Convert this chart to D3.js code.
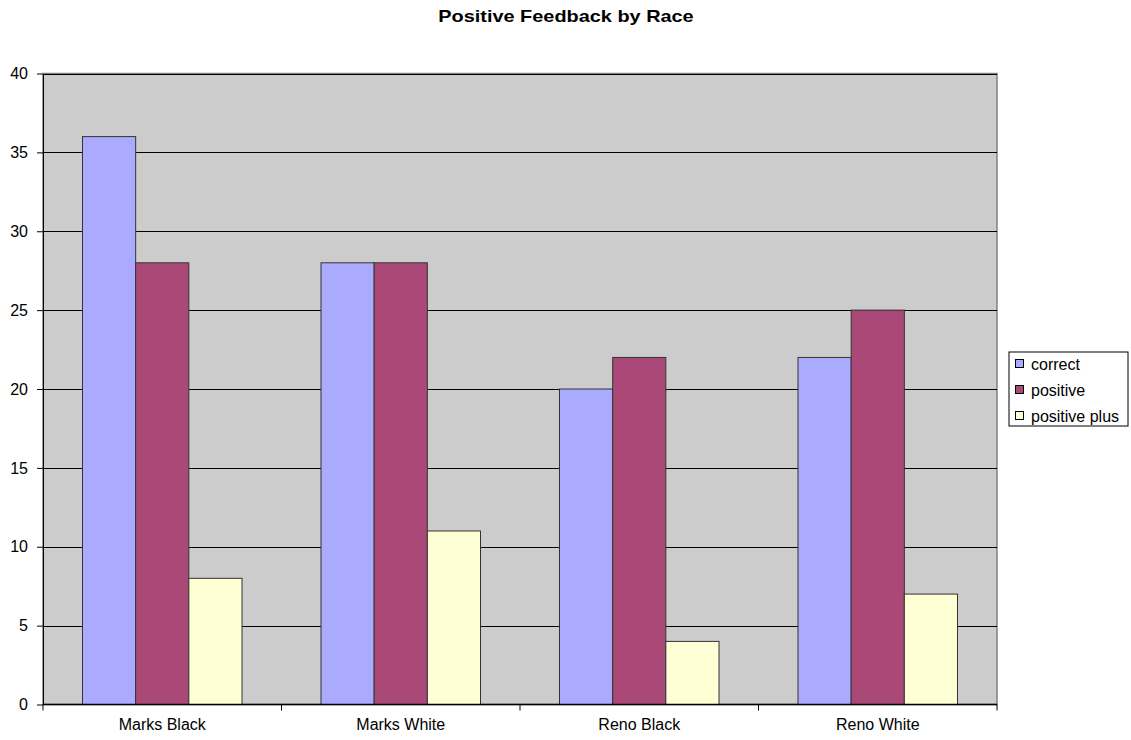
<!DOCTYPE html>
<html>
<head>
<meta charset="utf-8">
<script src="https://cdn.jsdelivr.net/npm/d3@7"></script>
<style>
  html, body { margin: 0; padding: 0; background: #fff; }
  text { font-family: "Liberation Sans", Arial, sans-serif; }
</style>
</head>
<body>
<svg id="chart" width="1131" height="740"></svg>
<script>
// Feedback counts by group
const categories = ["Marks Black", "Marks White", "Reno Black", "Reno White"];
const seriesNames = ["correct", "positive", "positive plus"];
const correct = [36, 28, 20, 22];
const positive = [28, 28, 22, 25];
const positivePlus = [8, 11, 4, 7];
const yTicks = [0, 5, 10, 15, 20, 25, 30, 35, 40];
const colors = ["#aaaaff", "#aa4977", "#ffffd5"];

const seriesValues = [correct, positive, positivePlus];
const rows = categories.map((c, i) => ({
  category: c,
  values: seriesNames.map((s, j) => ({ series: s, value: seriesValues[j][i] }))
}));

const svg = d3.select("#chart");
const plot = { left: 43, right: 997, top: 73.5, bottom: 704.5 };

const x0 = d3.scaleBand().domain(categories).range([plot.left, plot.right]).paddingInner(0).paddingOuter(0);
const x1 = d3.scaleBand().domain(seriesNames).range([39.5, x0.bandwidth() - 39.5]);
const y = d3.scaleLinear().domain([0, 40]).range([plot.bottom, plot.top]);

// Plot background
svg.append("rect")
  .attr("x", plot.left).attr("y", plot.top)
  .attr("width", plot.right - plot.left).attr("height", plot.bottom - plot.top)
  .attr("fill", "#cccccc").attr("stroke", "#808080").attr("stroke-width", 1.5);

// Horizontal gridlines
svg.append("g").selectAll("line").data(yTicks.filter(d => d > 0)).join("line")
  .attr("x1", plot.left).attr("x2", plot.right)
  .attr("y1", d => Math.round(y(d)) + 0.5).attr("y2", d => Math.round(y(d)) + 0.5)
  .attr("stroke", "#000").attr("stroke-width", 1);

// Bars
const groups = svg.append("g").selectAll("g").data(rows).join("g")
  .attr("transform", d => `translate(${x0(d.category)},0)`);
groups.selectAll("rect").data(d => d.values).join("rect")
  .attr("x", d => x1(d.series))
  .attr("y", d => y(d.value))
  .attr("width", x1.bandwidth())
  .attr("height", d => y(0) - y(d.value))
  .attr("fill", (d, i) => colors[i])
  .attr("stroke", "#333")
  .attr("stroke-width", 1);

// Y axis
const yAxis = d3.axisLeft(y).tickValues(yTicks).tickSize(6).tickPadding(9).tickSizeOuter(0);
const gy = svg.append("g").attr("transform", `translate(${plot.left},0)`).call(yAxis);
gy.select(".domain").attr("stroke", "#000");
gy.selectAll("line").attr("stroke", "#000");
gy.selectAll("text").attr("font-size", 16).attr("fill", "#000").attr("font-family", "Liberation Sans, Arial, sans-serif");

// X axis with ticks at category boundaries
const gx = svg.append("g").attr("transform", `translate(0,${plot.bottom})`);
gx.append("line").attr("x1", plot.left).attr("x2", plot.right).attr("stroke", "#000").attr("stroke-width", 1.5);
const boundaries = categories.map(c => x0(c)).concat([plot.right]);
gx.selectAll(".tk").data(boundaries).join("line").attr("class", "tk")
  .attr("x1", d => d).attr("x2", d => d).attr("y1", 0).attr("y2", 6).attr("stroke", "#000");
gx.selectAll("text").data(categories).join("text")
  .attr("x", d => x0(d) + x0.bandwidth() / 2).attr("y", 25.5)
  .attr("text-anchor", "middle").attr("font-size", 16).attr("fill", "#000")
  .text(d => d);

// Title (slightly widened lettering)
svg.append("text").attr("transform", "translate(566,22) scale(1.17,1)")
  .attr("text-anchor", "middle")
  .attr("font-size", 17).attr("font-weight", "bold").attr("fill", "#000")
  .text("Positive Feedback by Race");

// Legend
const legend = svg.append("g").attr("transform", "translate(1009,352)");
legend.append("rect").attr("x", 0).attr("y", 0).attr("width", 119).attr("height", 74)
  .attr("fill", "#fff").attr("stroke", "#000").attr("stroke-width", 1);
const items = legend.selectAll(".item").data(seriesNames).join("g").attr("class", "item")
  .attr("transform", (d, i) => `translate(0,${12 + i * 26})`);
items.append("rect").attr("x", 6.5).attr("y", -4.5).attr("width", 8).attr("height", 8)
  .attr("fill", (d, i) => colors[i]).attr("stroke", "#000");
items.append("text").attr("x", 22).attr("y", 5.5).attr("font-size", 16).attr("fill", "#000").text(d => d);
</script>
</body>
</html>
